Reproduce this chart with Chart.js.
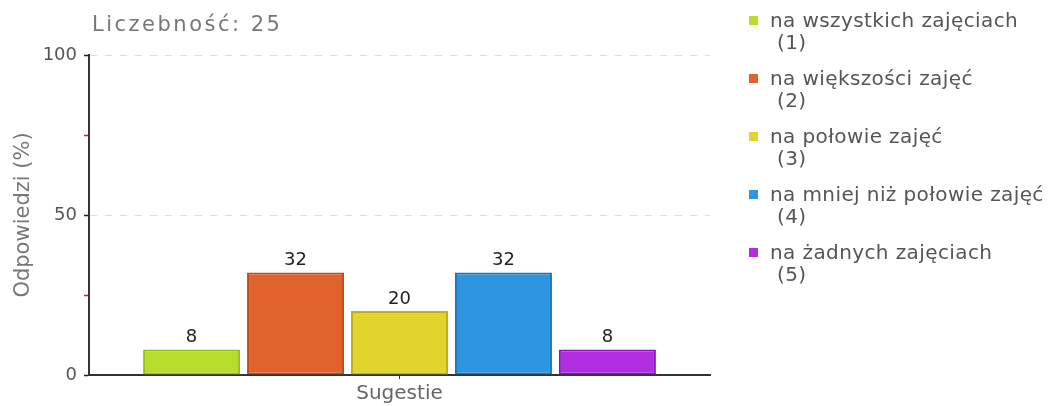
<!DOCTYPE html>
<html lang="pl">
<head>
<meta charset="utf-8">
<title>Sugestie</title>
<script src="https://cdn.jsdelivr.net/npm/chart.js@4/dist/chart.umd.min.js"></script>
<style>
    html, body { margin: 0; padding: 0; background: #fff; }
    #wrap { position: relative; width: 1054px; height: 406px; }
    #legend {
        position: absolute; left: 749px; top: 9px;
        font-family: "DejaVu Sans", sans-serif; font-size: 20px; color: #555;
        letter-spacing: 0.4px; list-style: none; margin: 0; padding: 0;
        white-space: nowrap;
    }
    #legend li { position: relative; height: 58px; padding-left: 21px; line-height: 22px; }
    #legend .box { position: absolute; left: 0; top: 7px; width: 9px; height: 9px; }
    #legend .num { display: block; padding-left: 7px; }
</style>
</head>
<body>
<div id="wrap">
    <canvas id="chart" width="1054" height="406"></canvas>
    <ul id="legend"></ul>
</div>
<script>
// Survey data: answer share (%) for the single question group
const categories = ['Sugestie'];
const answerLabels = ['na wszystkich zajęciach', 'na większości zajęć', 'na połowie zajęć', 'na mniej niż połowie zajęć', 'na żadnych zajęciach'];
const answerCodes = ['(1)', '(2)', '(3)', '(4)', '(5)'];
const answerValues = [8, 32, 20, 32, 8];
const yTicks = [0, 50, 100];
const sampleSize = 25;

const fillColors = ['#b7dd2c', '#e0622d', '#e0d42d', '#2e96e0', '#b02de0'];
const borderColors = ['#94c013', '#c04a19', '#bcb012', '#1a73bb', '#8c14bb'];

const FONT = '"DejaVu Sans", sans-serif';

// One dataset per answer so the bars sit side by side in the group
const datasets = answerLabels.map((label, i) => ({
    label: label,
    data: [answerValues[i]],
    backgroundColor: fillColors[i],
    borderColor: borderColors[i],
    borderWidth: 2,
    borderSkipped: false,
    categoryPercentage: 0.837,
    barPercentage: 0.933
}));

// Value printed above each bar
const valueLabels = {
    id: 'valueLabels',
    afterDatasetsDraw(chart) {
        const ctx = chart.ctx;
        ctx.save();
        ctx.font = '18px ' + FONT;
        ctx.fillStyle = '#222';
        ctx.textAlign = 'center';
        ctx.textBaseline = 'bottom';
        chart.data.datasets.forEach((ds, i) => {
            chart.getDatasetMeta(i).data.forEach((bar, j) => {
                ctx.fillText(String(ds.data[j]), bar.x, bar.y - 3);
            });
        });
        ctx.restore();
    }
};

// Sample size caption at the top left of the plot
const sampleCaption = {
    id: 'sampleCaption',
    afterDraw(chart) {
        const ctx = chart.ctx;
        ctx.save();
        ctx.font = '21px ' + FONT;
        ctx.letterSpacing = '2.5px';
        ctx.fillStyle = '#777';
        ctx.textAlign = 'left';
        ctx.textBaseline = 'middle';
        ctx.fillText('Liczebność: ' + sampleSize, chart.chartArea.left + 3, 26);
        ctx.restore();
    }
};

new Chart(document.getElementById('chart'), {
    type: 'bar',
    data: { labels: categories, datasets: datasets },
    plugins: [valueLabels, sampleCaption],
    options: {
        responsive: false,
        animation: false,
        layout: { padding: { top: 55, right: 344, left: 0, bottom: 0 } },
        plugins: {
            legend: { display: false },
            tooltip: { enabled: false }
        },
        scales: {
            x: {
                offset: true,
                afterFit: s => { s.height = 31; },
                border: { color: '#333', width: 2 },
                grid: { offset: false, drawOnChartArea: false, tickLength: 4, tickColor: '#333' },
                ticks: { color: '#666', font: { family: FONT, size: 20 }, padding: 3 }
            },
            y: {
                min: 0,
                max: 100,
                afterFit: s => { s.width = 89; },
                afterBuildTicks: s => {
                    // labelled ticks plus unlabelled quarter marks
                    s.ticks = [0, 25, 50, 75, 100].map(v => ({ value: v }));
                },
                border: { color: '#333', width: 2, dash: [7, 8] },
                grid: {
                    tickLength: 5,
                    tickWidth: 1.5,
                    color: c => (c.tick && (c.tick.value === 50 || c.tick.value === 100)) ? '#dddddd' : 'rgba(0,0,0,0)',
                    tickColor: c => (c.tick && yTicks.includes(c.tick.value)) ? '#222' : '#ee1111'
                },
                ticks: {
                    color: '#555',
                    font: { family: FONT, size: 18 },
                    padding: 7,
                    callback: v => yTicks.includes(v) ? String(v) : ''
                },
                title: {
                    display: true,
                    text: 'Odpowiedzi (%)',
                    color: '#777',
                    font: { family: FONT, size: 21 },
                    padding: { top: 11, bottom: 0 }
                }
            }
        }
    }
});

// HTML legend with the answer code under each label
const legendEl = document.getElementById('legend');
legendEl.innerHTML = answerLabels.map((label, i) => `
    <li><span class="box" style="background:${fillColors[i]}"></span>${label}<span class="num">${answerCodes[i]}</span></li>
`).join('');
</script>
</body>
</html>
